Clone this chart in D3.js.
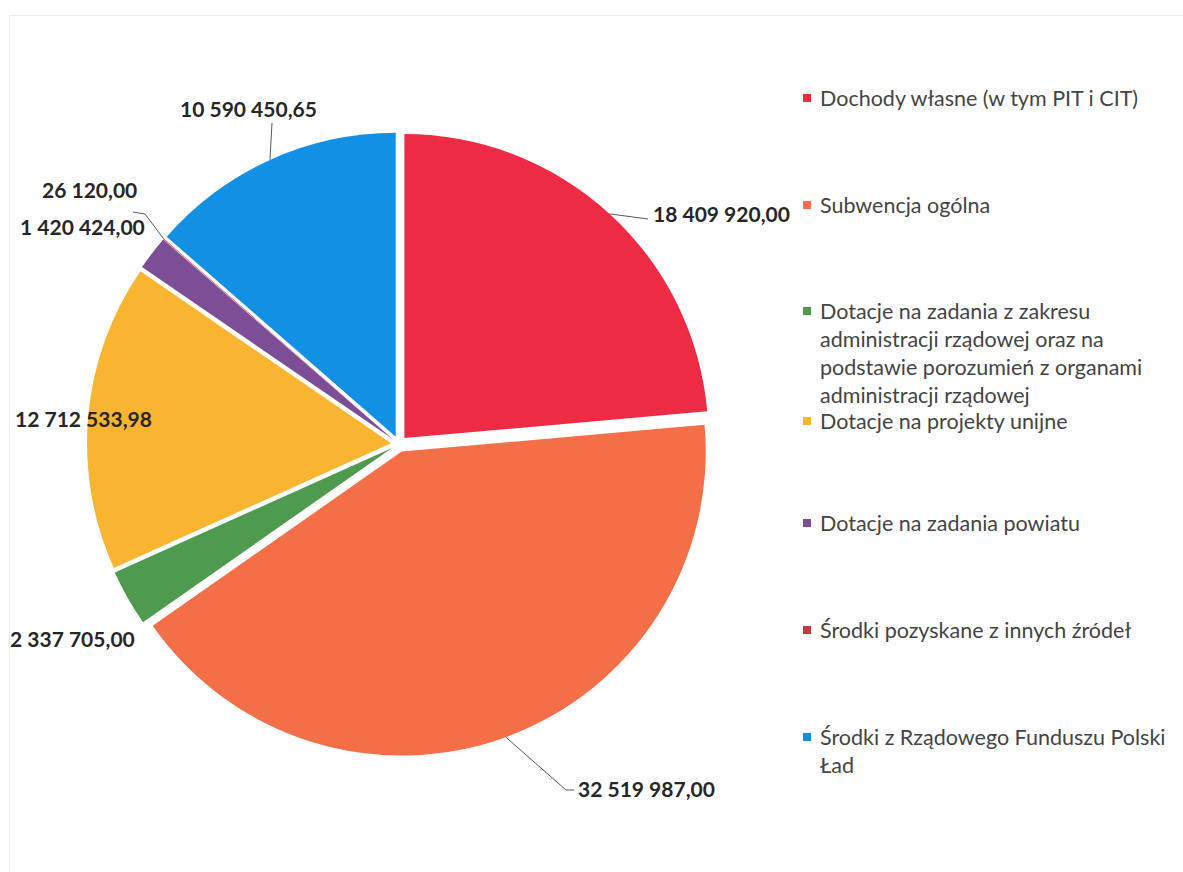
<!DOCTYPE html>
<html>
<head>
<meta charset="utf-8">
<script src="https://cdn.jsdelivr.net/npm/d3@7"></script>
<style>
  body { margin: 0; background: #fff; }
  svg { display: block; }
</style>
</head>
<body>
<svg width="1183" height="872"></svg>
<script>
  // data
  const categories = [
    'Dochody własne (w tym PIT i CIT)',
    'Subwencja ogólna',
    'Dotacje na zadania z zakresu administracji rządowej oraz na podstawie porozumień z organami administracji rządowej',
    'Dotacje na projekty unijne',
    'Dotacje na zadania powiatu',
    'Środki pozyskane z innych źródeł',
    'Środki z Rządowego Funduszu Polski Ład'
  ];
  const values = [18409920.00, 32519987.00, 2337705.00, 12712533.98, 1420424.00, 26120.00, 10590450.65];
  const valueLabels = ['18 409 920,00', '32 519 987,00', '2 337 705,00', '12 712 533,98', '1 420 424,00', '26 120,00', '10 590 450,65'];
  const legendLines = [
    ['Dochody własne (w tym PIT i CIT)'],
    ['Subwencja ogólna'],
    ['Dotacje na zadania z zakresu', 'administracji rządowej oraz na', 'podstawie porozumień z organami', 'administracji rządowej'],
    ['Dotacje na projekty unijne'],
    ['Dotacje na zadania powiatu'],
    ['Środki pozyskane z innych źródeł'],
    ['Środki z Rządowego Funduszu Polski', 'Ład']
  ];
  const colors = ['#ED2B45', '#F46F47', '#4E9A4F', '#F9B430', '#7B4E96', '#C23A40', '#1290E4'];

  // label placement (layout only)
  const labelLayout = [
    { x: 653, y: 215, leader: [[648, 219]] },
    { x: 578, y: 790, leader: [[566, 790], [574, 790]] },
    { x: 10, y: 640, leader: null },
    { x: 15, y: 420, leader: null },
    { x: 20, y: 228, leader: null },
    { x: 42, y: 191, leader: [[145, 214], [133, 212]] },
    { x: 180, y: 110, leader: [[272, 123]] }
  ];
  const legendY = [98, 205, 311, 421, 523, 630, 737];

  const svg = d3.select('svg');
  const cx = 399, cy = 444, radius = 304, explode = 8;

  // light frame
  svg.append('rect')
    .attr('x', 9.5).attr('y', 15.5)
    .attr('width', 1200).attr('height', 900)
    .attr('fill', 'none')
    .attr('stroke', '#ececec');

  const pie = d3.pie().sort(null).value(d => d)(values);
  const arc = d3.arc().innerRadius(0).outerRadius(radius);

  const g = svg.append('g').attr('transform', `translate(${cx},${cy})`);

  const offset = d => {
    const a = (d.startAngle + d.endAngle) / 2;
    return [Math.sin(a) * explode, -Math.cos(a) * explode];
  };

  g.selectAll('path.slice')
    .data(pie)
    .enter().append('path')
      .attr('class', 'slice')
      .attr('d', arc)
      .attr('transform', d => `translate(${offset(d)})`)
      .attr('fill', (d, i) => colors[i]);

  // leaders
  pie.forEach((d, i) => {
    const lay = labelLayout[i];
    if (!lay.leader) return;
    const a = (d.startAngle + d.endAngle) / 2;
    const o = offset(d);
    const start = [cx + o[0] + Math.sin(a) * radius, cy + o[1] - Math.cos(a) * radius];
    svg.append('path')
      .attr('d', d3.line()([start, ...lay.leader]))
      .attr('fill', 'none')
      .attr('stroke', '#5a5a5a')
      .attr('stroke-width', 1);
  });

  svg.selectAll('text.vlabel')
    .data(valueLabels)
    .enter().append('text')
      .attr('class', 'vlabel')
      .attr('x', (d, i) => labelLayout[i].x)
      .attr('y', (d, i) => labelLayout[i].y)
      .attr('dy', '0.35em')
      .attr('font-family', 'Lato, sans-serif')
      .attr('font-weight', 'bold')
      .attr('font-size', 21)
      .attr('fill', '#262626')
      .text(d => d);

  // legend
  const legend = svg.append('g').attr('transform', 'translate(803,0)');
  const items = legend.selectAll('g')
    .data(categories)
    .enter().append('g')
      .attr('transform', (d, i) => `translate(0,${legendY[i]})`);

  items.append('rect')
    .attr('x', 0).attr('y', -4)
    .attr('width', 8).attr('height', 8)
    .attr('fill', (d, i) => colors[i]);

  items.append('text')
    .attr('x', 17)
    .attr('font-family', 'Lato, sans-serif')
    .attr('font-size', 21.5)
    .attr('fill', '#444')
    .selectAll('tspan')
    .data((d, i) => legendLines[i])
    .enter().append('tspan')
      .attr('x', 17)
      .attr('y', (d, j) => j * 28)
      .attr('dy', '0.35em')
      .text(d => d);
</script>
</body>
</html>
